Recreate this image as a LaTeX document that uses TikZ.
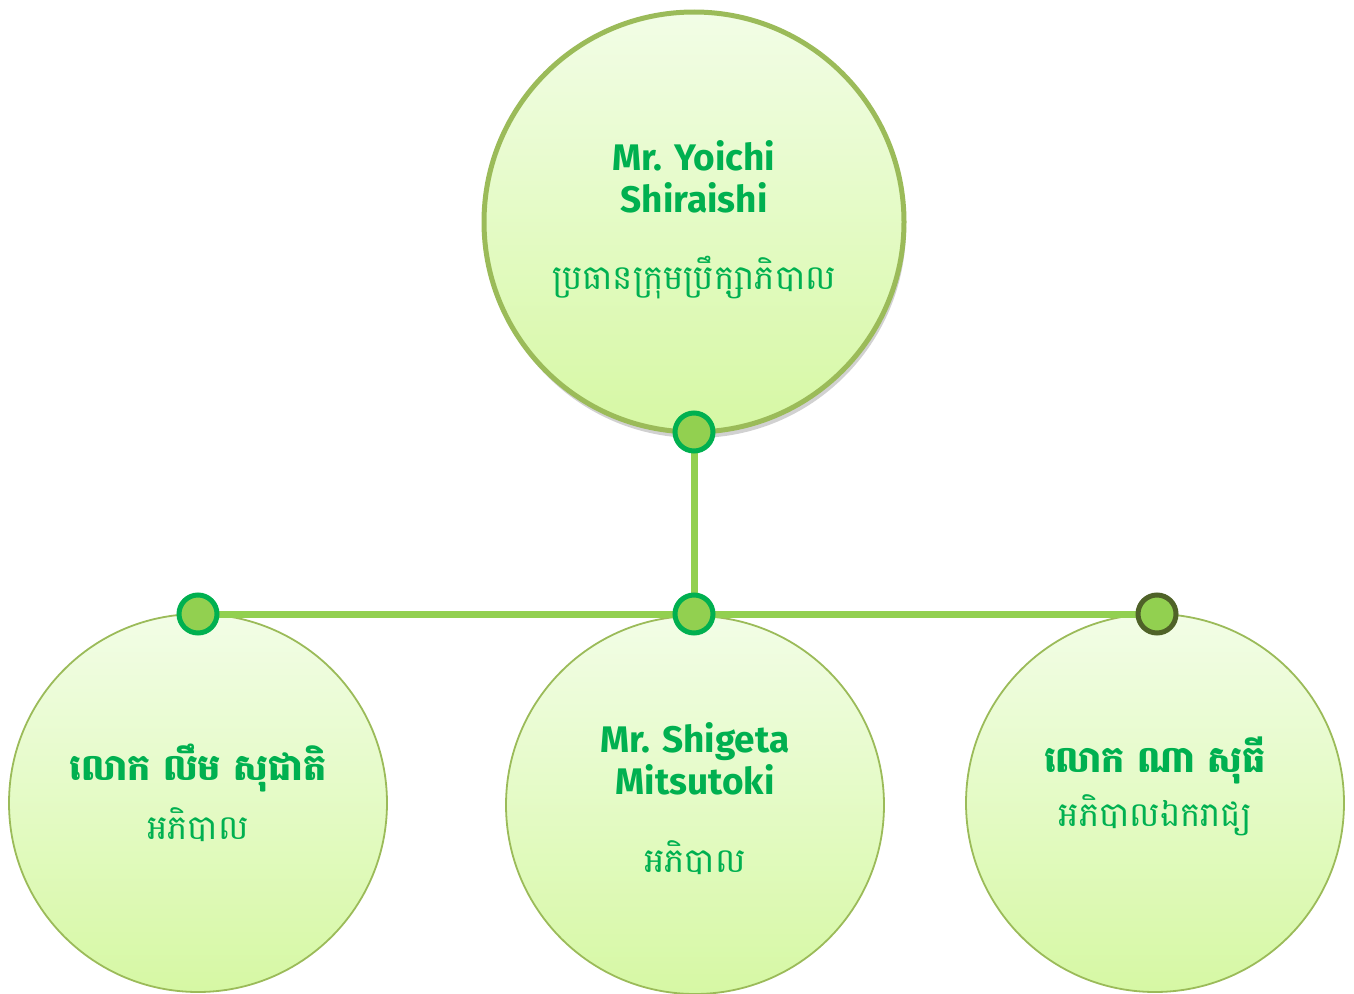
\documentclass[tikz,border=0pt]{standalone}
\usepackage{fontspec}
\usetikzlibrary{shadows}
\newfontfamily\khmer[Script=Khmer]{Battambang}
\newfontfamily\latinb{Fira Sans}
\definecolor{txtgreen}{HTML}{00B050}
\definecolor{rimgreen}{HTML}{9BBB59}
\definecolor{linegreen}{HTML}{92D050}
\definecolor{dotrim}{HTML}{00B050}
\definecolor{darkrim}{HTML}{4F6228}
\definecolor{filltop}{HTML}{F2FDE6}
\definecolor{fillbot}{HTML}{D6F8A4}
\tikzset{
  bigcircle/.style={circle, minimum size=420pt, inner sep=0pt, draw=rimgreen, line width=5pt,
     top color=filltop, bottom color=fillbot,
     drop shadow={shadow xshift=2pt, shadow yshift=-6pt, opacity=0.3, fill=black!60}},
  smallcircle/.style={circle, minimum size=378pt, inner sep=0pt, draw=rimgreen, line width=1.8pt,
     top color=filltop, bottom color=fillbot},
  connector/.style={draw=linegreen, line width=7pt},
  dot/.style={circle, minimum size=38pt, inner sep=0pt, fill=linegreen, draw=dotrim, line width=5pt},
  darkdot/.style={dot, draw=darkrim},
  nametxt/.style={text=txtgreen, font=\latinb\bfseries\fontsize{37}{42}\selectfont, align=center},
  khname/.style={text=txtgreen, font=\khmer\bfseries\fontsize{36.5}{42}\selectfont, align=center},
  khrole/.style={text=txtgreen, font=\khmer\fontsize{34}{40}\selectfont, align=center}
}
\begin{document}
\begin{tikzpicture}[x=1pt,y=-1pt]
\useasboundingbox (0,0) rectangle (1354,993);
\begin{scope}
\clip (0,0) rectangle (1354,993);
\node[smallcircle] (cl) at (198,803) {};
\node[smallcircle] (cm) at (695,805) {};
\node[smallcircle] (cr) at (1155,803) {};
\end{scope}
\node[bigcircle] (top) at (694,222) {};
\coordinate (jt) at (694,432);
\coordinate (jl) at (198,614);
\coordinate (jm) at (694,614);
\coordinate (jr) at (1157,614);
\draw[connector] (jt) -- (jm);
\draw[connector] (jl) -- (jr);
\node[dot] (dt) at (jt) {};
\node[dot] (dl) at (jl) {};
\node[dot] (dm) at (jm) {};
\node[darkdot] (dr) at (jr) {};
% texts
\node[nametxt] (t1) at (694,177) {Mr. Yoichi\\Shiraishi};
\node[khrole] (t2) at (694,278) {ប្រធានក្រុមប្រឹក្សាភិបាល};
\node[khname] (l1) at (198,768) {លោក លឹម សុជាតិ};
\node[khrole] (l2) at (198,825) {អភិបាល};
\node[nametxt] (m1) at (695,759) {Mr. Shigeta\\Mitsutoki};
\node[khrole] (m2) at (695,858) {អភិបាល};
\node[khname] (r1) at (1155,760) {លោក ណា សុធី};
\node[khrole] (r2) at (1155,815) {អភិបាលឯករាជ្យ};
\end{tikzpicture}
\end{document}
